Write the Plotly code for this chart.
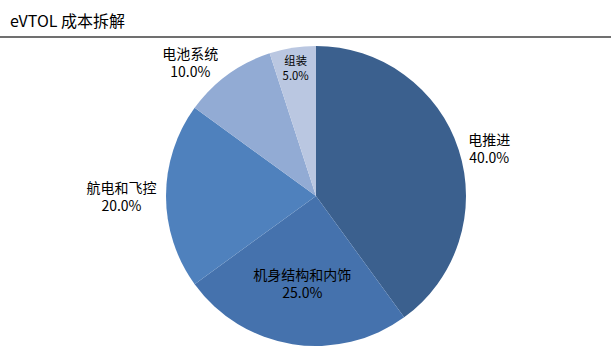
import plotly.graph_objects as go

title_text = "eVTOL 成本拆解"
categories = ["电推进", "机身结构和内饰", "航电和飞控", "电池系统", "组装"]
values = [40.0, 25.0, 20.0, 10.0, 5.0]
colors = ["#3B608E", "#4572AD", "#4F81BD", "#92ABD4", "#BAC7E1"]
text_positions = ["outside", "inside", "outside", "outside", "inside"]

W, H = 611, 360
cx, cy, r = 316, 196, 150
FONT = "Noto Sans CJK SC"

fig = go.Figure()
fig.add_trace(go.Pie(
    labels=categories,
    values=values,
    sort=False,
    direction="clockwise",
    rotation=0,
    marker=dict(colors=colors, line=dict(color="white", width=0)),
    texttemplate="%{label}<br>%{percent:.1%}",
    textposition=text_positions,
    insidetextorientation="horizontal",
    textfont=dict(family=FONT, size=14, color="black"),
    insidetextfont=dict(family=FONT, size=14, color="black"),
    outsidetextfont=dict(family=FONT, size=14, color="black"),
    showlegend=False,
    hoverinfo="label+percent",
    domain=dict(x=[(cx - r) / W, (cx + r) / W], y=[(H - cy - r) / H, (H - cy + r) / H]),
))

fig.update_layout(
    width=W, height=H,
    margin=dict(l=0, r=0, t=0, b=0),
    paper_bgcolor="white",
    plot_bgcolor="white",
    annotations=[dict(
        text=title_text, x=8 / W, y=1 - 20 / H, xref="paper", yref="paper",
        xanchor="left", yanchor="middle", showarrow=False,
        font=dict(family=FONT, size=16, color="black"),
    )],
    shapes=[dict(
        type="line", xref="paper", yref="paper",
        x0=0, x1=1, y0=1 - 37 / H, y1=1 - 37 / H,
        line=dict(color="#707070", width=2),
    )],
)

fig.write_html(
    "out.html",
    config={"displayModeBar": False},
    post_script="document.body.style.margin='0';document.body.style.overflow='hidden';",
)
